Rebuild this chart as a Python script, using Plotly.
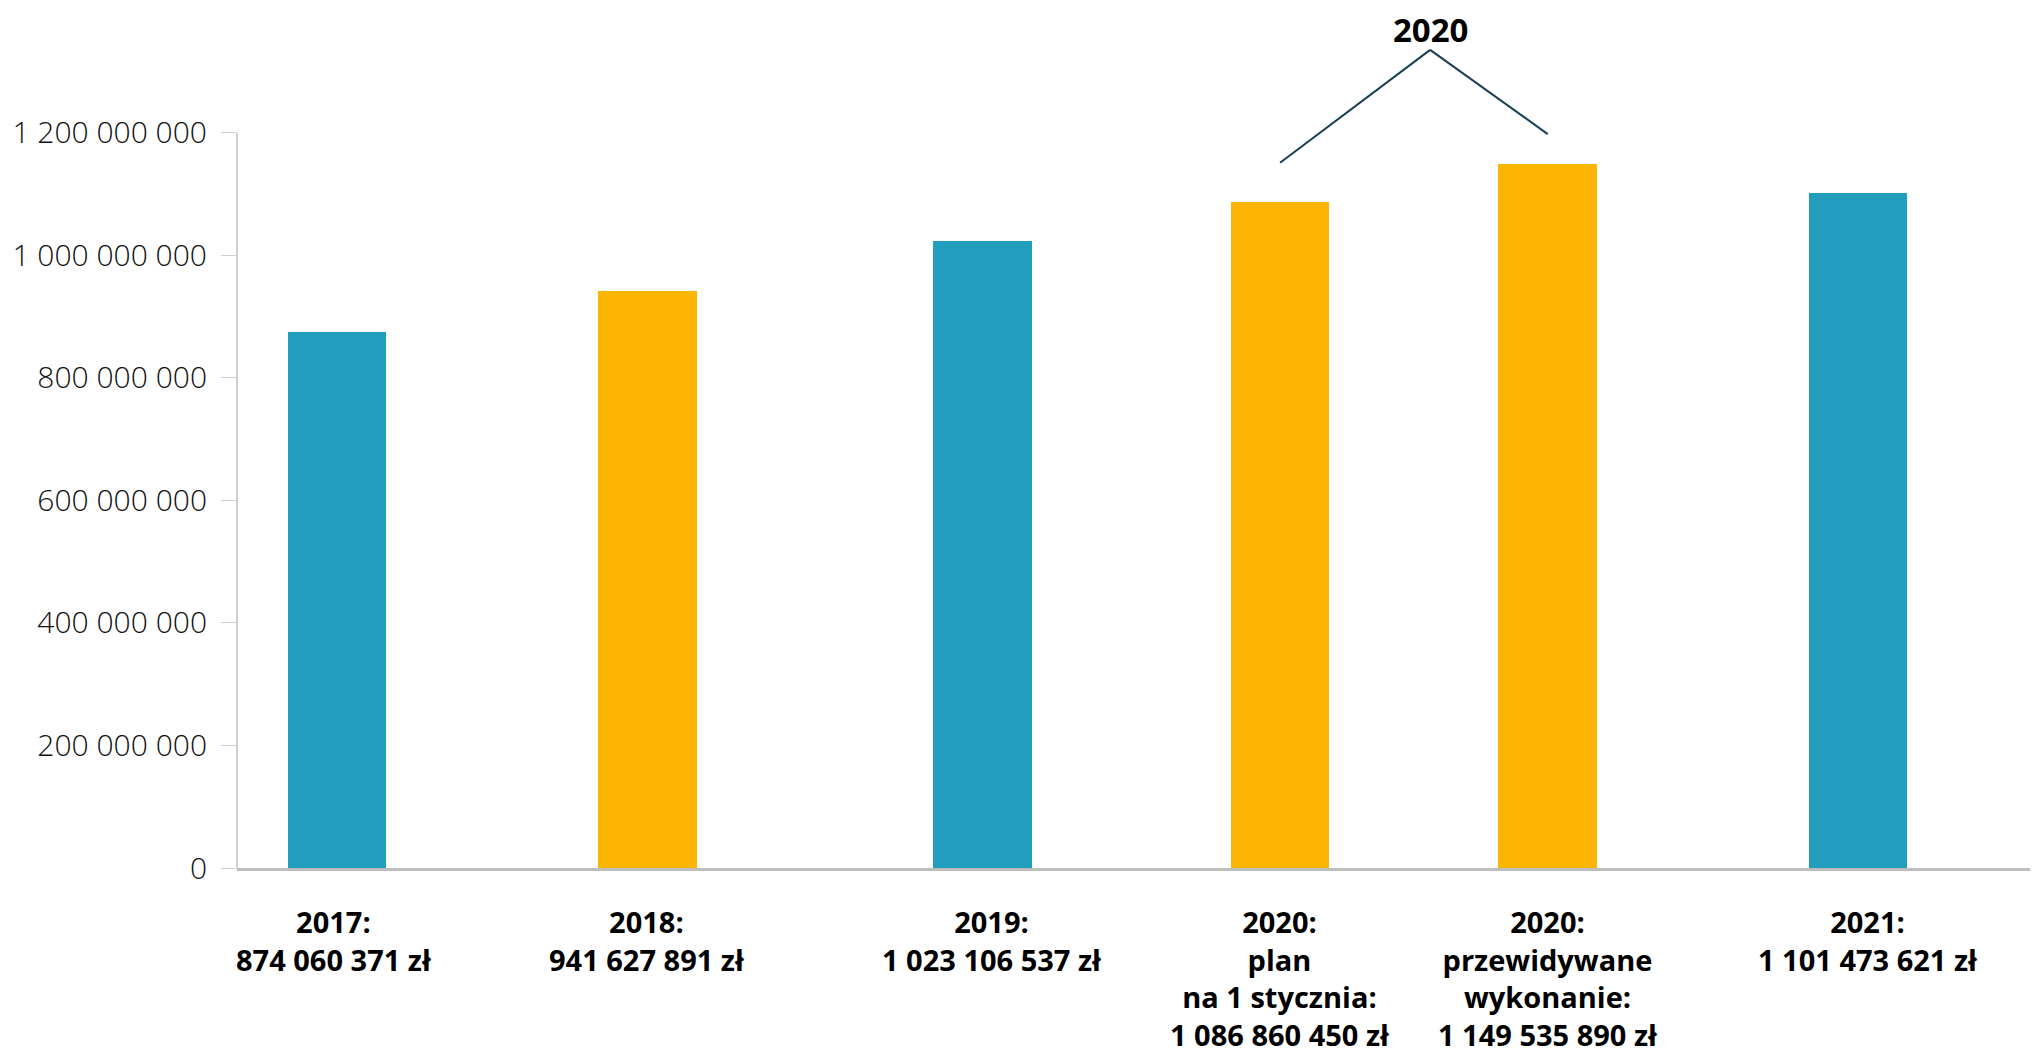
import plotly.graph_objects as go

# ---- data ----
categories = ["2017:", "2018:", "2019:",
              "2020:<br>plan<br>na 1 stycznia:",
              "2020:<br>przewidywane<br>wykonanie:",
              "2021:"]
values = [874060371, 941627891, 1023106537, 1086860450, 1149535890, 1101473621]
bar_colors = ["#229dbd", "#fdb504", "#229dbd", "#fdb504", "#fdb504", "#229dbd"]
y_ticks = [0, 200000000, 400000000, 600000000, 800000000, 1000000000, 1200000000]
group_label = "2020"

# ---- layout helpers (positions on an abstract x axis) ----
x_pos = [0.40, 1.64, 2.98, 4.17, 5.24, 6.48]
label_shift = [-3, 0, 10, 0, 0, 10]
X_RANGE = [0, 7.2]
Y_RANGE = [0, 1.4e9]
FONT = "Open Sans"


def fmt(v):
    return f"{v:,}".replace(",", " ")


fig = go.Figure()
fig.add_trace(go.Bar(
    x=x_pos, y=values, width=0.395,
    marker=dict(color=bar_colors, line=dict(width=0)),
    hoverinfo="skip", showlegend=False,
))

# labels under bars
for xp, cat, v, sh in zip(x_pos, categories, values, label_shift):
    fig.add_annotation(
        x=xp, xref="x", y=0, yref="paper", yanchor="top", xanchor="center",
        yshift=-33, xshift=sh, showarrow=False, align="center", borderpad=0,
        text=f"<b>{cat}<br>{fmt(v)} zł</b>",
        font=dict(family=FONT, size=29, color="#000000"),
    )

# bracket for the two 2020 bars
i, j = 3, 4
apex_x = (x_pos[i] + x_pos[j]) / 2 + 0.065
left_y = values[i] + 64e6
right_y = values[j] + 48e6
apex_y = 1.335e9
fig.add_shape(type="line", xref="x", yref="y", x0=x_pos[i], y0=left_y,
              x1=apex_x, y1=apex_y, line=dict(color="#173f54", width=2))
fig.add_shape(type="line", xref="x", yref="y", x0=apex_x, y0=apex_y,
              x1=x_pos[j] + 0.0, y1=right_y, line=dict(color="#173f54", width=2))
fig.add_annotation(x=apex_x, xref="x", y=apex_y, yref="y", yanchor="bottom",
                   yshift=-3, showarrow=False, borderpad=0,
                   text=f"<b>{group_label}</b>",
                   font=dict(family=FONT, size=33, color="#000000"))

# y axis line from 0 to top tick
fig.add_shape(type="line", xref="paper", yref="y", x0=0, x1=0,
              y0=0, y1=y_ticks[-1], line=dict(color="#d0d0d0", width=2))

fig.update_layout(
    width=2030, height=1050,
    margin=dict(l=229, r=0, t=2, b=190),
    paper_bgcolor="white", plot_bgcolor="white",
    separators=", ",
    xaxis=dict(range=X_RANGE, showticklabels=False, ticks="", showgrid=False,
               zeroline=False, showline=True, linecolor="#bdbdbd", linewidth=3,
               fixedrange=True),
    yaxis=dict(range=Y_RANGE, tickvals=y_ticks, tickformat=",d", ticks="outside",
               ticklen=15, tickcolor="#d0d0d0", tickwidth=1, showgrid=False,
               zeroline=False, showline=False, ticklabelstandoff=8,
               tickfont=dict(family=FONT, size=30, color="#111111", weight=300),
               fixedrange=True),
    bargap=0,
)

fig.write_html("out.html")
